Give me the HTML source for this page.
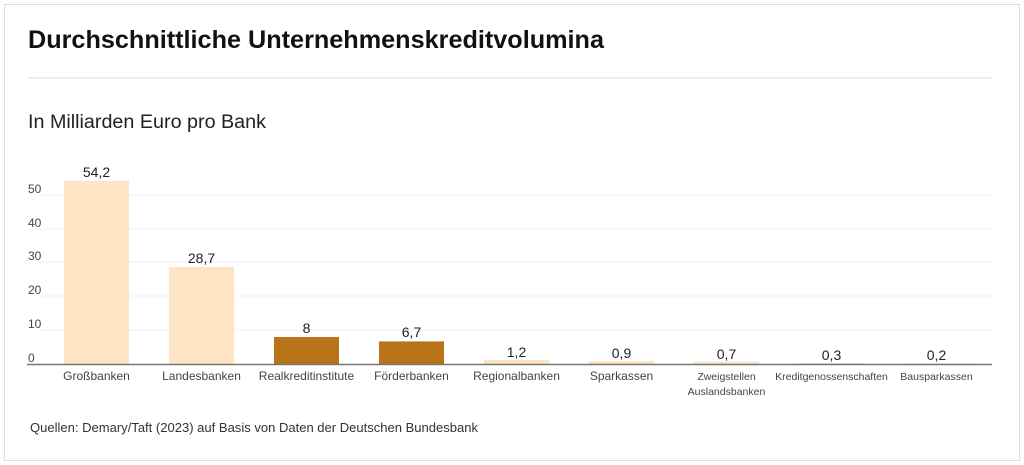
<!DOCTYPE html>
<html><head><meta charset="utf-8"><style>
body{margin:0;background:#fff;}
.card{position:absolute;left:4px;top:4px;width:1014px;height:455px;border:1px solid #ddd;background:#fff;}
svg{position:absolute;left:0;top:0;}
text{font-family:"Liberation Sans",sans-serif;}
</style></head><body>
<div class="card"></div>
<svg width="1024" height="465" viewBox="0 0 1024 465">
<text x="28" y="48" font-size="25" font-weight="bold" fill="#111" textLength="576" lengthAdjust="spacingAndGlyphs">Durchschnittliche Unternehmenskreditvolumina</text>
<line x1="28" y1="78" x2="992" y2="78" stroke="#ddd" stroke-width="1"/>
<text x="28" y="128" font-size="19" fill="#222" textLength="238" lengthAdjust="spacingAndGlyphs">In Milliarden Euro pro Bank</text>
<g stroke="#f0f0f0" stroke-width="1">
<line x1="40" y1="330" x2="992" y2="330"/><line x1="40" y1="296" x2="992" y2="296"/>
<line x1="40" y1="262" x2="992" y2="262"/><line x1="40" y1="229" x2="992" y2="229"/>
<line x1="40" y1="195" x2="992" y2="195"/></g>
<g font-size="12" fill="#444">
<text x="28" y="362">0</text><text x="28" y="328">10</text><text x="28" y="294">20</text>
<text x="28" y="260">30</text><text x="28" y="227">40</text><text x="28" y="193">50</text></g>
<g>
<rect x="64" y="180.8" width="65" height="183.2" fill="#fde5c6"/>
<rect x="169" y="267" width="65" height="97" fill="#fde5c6"/>
<rect x="274" y="337" width="65" height="27" fill="#b87418"/>
<rect x="379" y="341.4" width="65" height="22.6" fill="#b87418"/>
<rect x="484" y="360" width="65" height="4" fill="#fde5c6"/>
<rect x="589" y="361" width="65" height="3" fill="#fde5c6"/>
<rect x="694" y="361.6" width="65" height="2.4" fill="#fde5c6"/>
<rect x="799" y="363" width="65" height="1" fill="#fde5c6"/>
<rect x="904" y="363.3" width="65" height="0.7" fill="#fde5c6"/>
</g>
<line x1="27" y1="364.5" x2="992" y2="364.5" stroke="#777" stroke-width="1.5"/>
<g font-size="14" fill="#222" text-anchor="middle">
<text x="96.5" y="177">54,2</text><text x="201.5" y="263">28,7</text><text x="306.5" y="333">8</text>
<text x="411.5" y="337">6,7</text><text x="516.5" y="357">1,2</text><text x="621.5" y="358">0,9</text>
<text x="726.5" y="359">0,7</text><text x="831.5" y="360">0,3</text><text x="936.5" y="360">0,2</text></g>
<g font-size="12" fill="#444" text-anchor="middle">
<text x="96.5" y="380">Großbanken</text><text x="201.5" y="380">Landesbanken</text>
<text x="306.5" y="380">Realkreditinstitute</text><text x="411.5" y="380">Förderbanken</text>
<text x="516.5" y="380">Regionalbanken</text><text x="621.5" y="380">Sparkassen</text></g>
<g font-size="10.5" fill="#444" text-anchor="middle">
<text x="726.5" y="380">Zweigstellen</text><text x="726.5" y="395">Auslandsbanken</text>
<text x="831.5" y="380">Kreditgenossenschaften</text><text x="936.5" y="380">Bausparkassen</text></g>
<text x="30" y="432" font-size="13" fill="#333" textLength="448" lengthAdjust="spacingAndGlyphs">Quellen: Demary/Taft (2023) auf Basis von Daten der Deutschen Bundesbank</text>
</svg>
</body></html>
